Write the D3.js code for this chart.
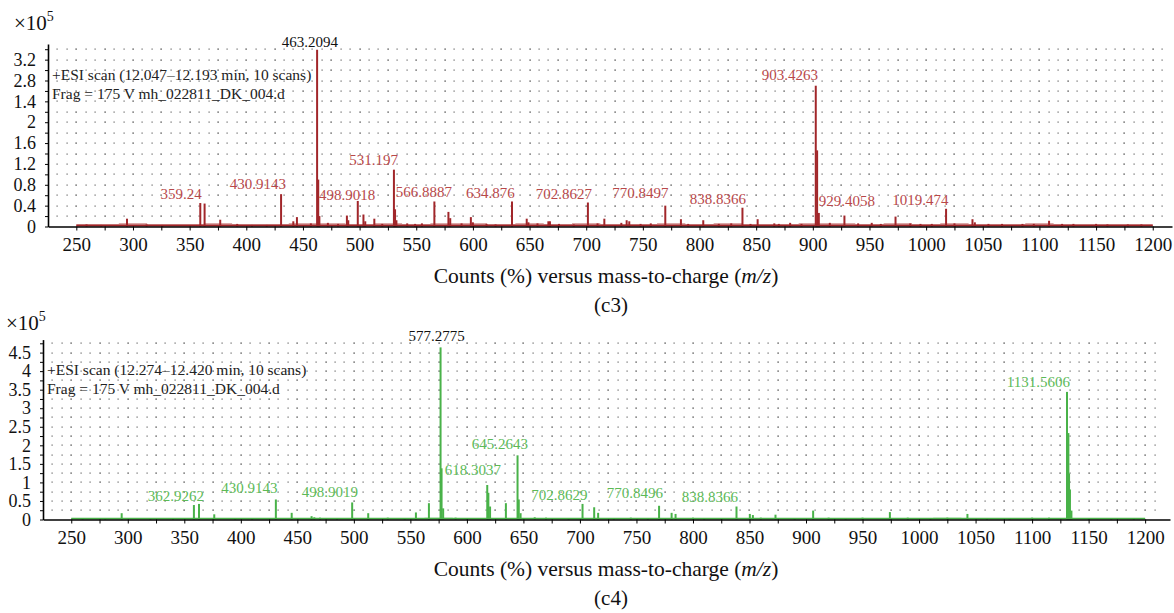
<!DOCTYPE html>
<html>
<head>
<meta charset="utf-8">
<script src="https://cdn.jsdelivr.net/npm/d3@7"></script>
<style>
  body { margin: 0; background: #fff; }
  svg text { font-family: "Liberation Serif", "DejaVu Serif", serif; }
</style>
</head>
<body>
<svg id="chart" width="1174" height="613"></svg>
<script>
// Mass spectra (c3) and (c4), intensities in units of 10^5 counts

var mzTicks = [250, 300, 350, 400, 450, 500, 550, 600, 650, 700, 750, 800, 850, 900, 950, 1000, 1050, 1100, 1150, 1200];

// (c3) stick spectrum
var c3Mz = [259, 272, 294.7, 312, 326, 359.4, 363.2, 377, 392, 405, 418, 430.7, 441.5, 444.7, 457, 462.5, 463.5, 464.5,
  472, 481, 488.8, 490, 498.4, 503.4, 505, 513, 520, 530.3, 531.3, 532.5, 542, 549, 555, 566, 578.4, 580, 590,
  598.2, 600, 612, 620, 634.5, 647.5, 649, 657, 666.6, 668, 676, 689, 701.5, 710, 716, 731, 735.7, 738, 748, 757,
  769.8, 783.6, 790, 803.3, 817, 828, 837.9, 845, 851.3, 866, 870, 880, 890, 902.6, 903.8, 905.3, 915, 927.9, 940,
  952, 960, 973, 986, 995, 1005, 1017.6, 1025, 1040.9, 1043, 1055, 1067, 1085, 1095, 1108.5, 1120, 1130, 1150,
  1160, 1178, 1190];
var c3Int = [0.04, 0.03, 0.15, 0.04, 0.03, 0.45, 0.44, 0.13, 0.05, 0.03, 0.03, 0.62, 0.10, 0.18, 0.06, 3.39, 0.90, 0.20,
  0.07, 0.05, 0.21, 0.12, 0.49, 0.23, 0.10, 0.15, 0.05, 1.09, 0.33, 0.12, 0.06, 0.05, 0.06, 0.48, 0.28, 0.16, 0.06,
  0.18, 0.08, 0.05, 0.04, 0.48, 0.15, 0.08, 0.06, 0.10, 0.10, 0.05, 0.04, 0.46, 0.06, 0.15, 0.07, 0.12, 0.10, 0.05, 0.06,
  0.40, 0.14, 0.05, 0.12, 0.05, 0.06, 0.36, 0.05, 0.14, 0.06, 0.05, 0.07, 0.05, 2.70, 1.46, 0.26, 0.07, 0.21, 0.06,
  0.07, 0.05, 0.19, 0.06, 0.05, 0.05, 0.34, 0.06, 0.14, 0.08, 0.05, 0.05, 0.05, 0.05, 0.11, 0.05, 0.05, 0.05,
  0.04, 0.04, 0.04];

// (c4) stick spectrum
var c4Mz = [260, 280, 294.6, 320, 340, 358.5, 363, 376.5, 395, 410, 431, 445, 462.6, 465, 470, 485, 498.5, 512.7,
  530, 545, 554.9, 566.4, 576.7, 577.6, 579, 590, 600, 618, 619, 620.5, 634.5, 644.8, 645.9, 647.5, 660, 670, 690,
  702.3, 712.6, 716.1, 730, 745, 760, 770, 781.1, 784.6, 800, 810, 825, 838.5, 850.3, 853, 860, 873, 890, 906.3,
  920, 935, 950, 974.2, 990, 1010, 1025, 1042.8, 1060, 1080, 1100, 1115, 1130.9, 1132.1, 1132.7, 1133.5, 1134.8,
  1150, 1170, 1190];
var c4Int = [0.04, 0.03, 0.17, 0.04, 0.03, 0.39, 0.42, 0.14, 0.04, 0.03, 0.54, 0.18, 0.09, 0.06, 0.05, 0.04, 0.46, 0.17,
  0.05, 0.04, 0.19, 0.44, 4.64, 1.38, 0.30, 0.05, 0.04, 0.93, 0.72, 0.35, 0.44, 1.73, 0.54, 0.17, 0.06, 0.05, 0.04,
  0.42, 0.33, 0.18, 0.04, 0.05, 0.04, 0.37, 0.18, 0.15, 0.05, 0.04, 0.04, 0.35, 0.15, 0.12, 0.05, 0.13, 0.04, 0.24,
  0.05, 0.04, 0.05, 0.20, 0.05, 0.04, 0.05, 0.15, 0.04, 0.04, 0.05, 0.05, 3.44, 2.33, 1.24, 0.81, 0.24,
  0.04, 0.04, 0.04];

// baseline noise read every 25 m/z
var noiseMz = [250, 275, 300, 325, 350, 375, 400, 425, 450, 475, 500, 525, 550, 575, 600, 625, 650, 675, 700, 725,
  750, 775, 800, 825, 850, 875, 900, 925, 950, 975, 1000, 1025, 1050, 1075, 1100, 1125, 1150, 1175, 1200];
var c3Noise = [0.05, 0.05, 0.06, 0.05, 0.05, 0.06, 0.05, 0.05, 0.06, 0.06, 0.05, 0.06, 0.05, 0.06, 0.06, 0.05, 0.06, 0.05, 0.06, 0.05,
  0.05, 0.06, 0.05, 0.06, 0.05, 0.05, 0.06, 0.06, 0.05, 0.06, 0.05, 0.06, 0.05, 0.05, 0.06, 0.05, 0.05, 0.05, 0.05];
var c4Noise = [0.04, 0.04, 0.04, 0.04, 0.04, 0.04, 0.04, 0.04, 0.04, 0.04, 0.04, 0.04, 0.04, 0.05, 0.04, 0.04, 0.04, 0.04, 0.04, 0.04,
  0.04, 0.04, 0.04, 0.04, 0.04, 0.04, 0.04, 0.04, 0.04, 0.04, 0.04, 0.05, 0.04, 0.04, 0.04, 0.04, 0.04, 0.04, 0.04];

// peak labels: text and anchor (label centre m/z, baseline intensity)
var c3LabelText = ["463.2094", "359.24", "430.9143", "498.9018", "531.197", "566.8887", "634.876", "702.8627",
  "770.8497", "838.8366", "903.4263", "929.4058", "1019.474"];
var c3LabelMz = [456.2, 342.4, 410.3, 488.9, 512.3, 556.8, 615.5, 680.4, 747.9, 816.3, 879.8, 930.1, 995];
var c3LabelInt = [3.44, 0.52, 0.71, 0.50, 1.17, 0.56, 0.54, 0.52, 0.55, 0.44, 2.81, 0.40, 0.42];

var c4LabelText = ["577.2775", "362.9262", "430.9143", "498.9019", "645.2643", "618.3037", "702.8629", "770.8496",
  "838.8366", "1131.5606"];
var c4LabelMz = [573.2, 342.6, 407.6, 478.8, 629.2, 605.3, 681.8, 748.6, 814.9, 1105.6];
var c4LabelInt = [4.81, 0.50, 0.71, 0.61, 1.90, 1.20, 0.53, 0.59, 0.47, 3.56];

var c3YTicks = [0, 0.4, 0.8, 1.2, 1.6, 2, 2.4, 2.8, 3.2];
var c3YTickLabels = ["0", "0.4", "0.8", "1.2", "1.6", "2", "1.4", "2.8", "3.2"];
var c4YTicks = [0, 0.5, 1, 1.5, 2, 2.5, 3, 3.5, 4, 4.5];
var c4YTickLabels = ["0", "0.5", "1", "1.5", "2", "2.5", "3", "3.5", "4", "4.5"];

var svg = d3.select("#chart");

function drawPanel(p) {
    var x = d3.scaleLinear().domain(p.xDomain).range(p.xRange);
    var y = d3.scaleLinear().domain(p.yDomain).range(p.yRange);
    var g = svg.append("g");

    // dotted grid (lattice of dots)
    var cols = d3.range(250 - 2 * 25 / 3, 1215, 25 / 3);
    var rows = d3.range(p.rowStep, p.yDomain[1] - 0.05, p.rowStep);
    var dots = [];
    cols.forEach(function(c, i) {
        rows.forEach(function(r) { dots.push([c, r, i % 3 == 2]); });
    });
    g.append("g").selectAll("rect")
        .data(dots)
        .enter()
        .append("rect")
        .attr("x", function(d) { return Math.round(x(d[0])) - 0.5; })
        .attr("y", function(d) { return Math.round(y(d[1])) - 0.5; })
        .attr("width", 1.2)
        .attr("height", 1.2)
        .attr("fill", function(d) { return d[2] ? "#222" : "#666"; });

    // baseline noise band
    var noise = p.noiseMz.map(function(m, i) { return [m, p.noise[i]]; });
    g.append("path")
        .datum(noise)
        .attr("fill", p.bandColor)
        .attr("d", d3.area()
            .curve(d3.curveStep)
            .x(function(d) { return x(d[0]); })
            .y0(y(0))
            .y1(function(d) { return y(d[1]); }));
    g.append("line")
        .attr("x1", x(250)).attr("x2", x(1200))
        .attr("y1", y(0) - 1).attr("y2", y(0) - 1)
        .attr("stroke", p.color)
        .attr("stroke-width", 1.5);

    // peaks
    var peaks = p.mz.map(function(m, i) { return [m, p.intensity[i]]; });
    g.append("g").selectAll("line")
        .data(peaks)
        .enter()
        .append("line")
        .attr("x1", function(d) { return x(d[0]); })
        .attr("x2", function(d) { return x(d[0]); })
        .attr("y1", y(0))
        .attr("y2", function(d) { return y(d[1]); })
        .attr("stroke", p.color)
        .attr("stroke-width", 2);

    // axes
    var bottomAxis = d3.axisBottom(x)
        .tickValues(d3.range(250, 1201, 25))
        .tickSize(4)
        .tickSizeOuter(0)
        .tickPadding(7.5)
        .tickFormat(function(d) { return mzTicks.indexOf(d) >= 0 ? d : ""; });
    var xg = g.append("g")
        .attr("transform", "translate(0," + y(0) + ")")
        .call(bottomAxis);
    xg.select(".domain").attr("stroke-width", 1.6);
    xg.selectAll("text").style("font-size", "19px").attr("fill", "#111");
    xg.selectAll("text").filter(function() { return this.textContent == ""; }).remove();

    var minorY = d3.range(0, p.yDomain[1], p.rowStep).map(function(v) { return +v.toFixed(2); });
    var leftAxis = d3.axisLeft(y)
        .tickValues(minorY)
        .tickSize(3)
        .tickSizeOuter(0)
        .tickPadding(9)
        .tickFormat(function(d) {
            var k = p.yTicks.indexOf(d);
            return k >= 0 ? p.yTickLabels[k] : "";
        });
    var yg = g.append("g")
        .attr("transform", "translate(" + x(p.xDomain[0]) + ",0)")
        .call(leftAxis);
    yg.select(".domain").attr("stroke-width", 1.6);
    yg.selectAll("text").style("font-size", "18px").attr("fill", "#111");
    yg.selectAll("text").filter(function() { return this.textContent == ""; }).remove();

    // x10^5
    var mult = g.append("text")
        .attr("x", p.multX)
        .attr("y", p.multY)
        .style("font-size", "21px")
        .attr("fill", "#111")
        .text("\u00d710");
    mult.append("tspan").attr("dy", -9).style("font-size", "14px").text("5");

    // scan annotation
    g.append("text")
        .attr("x", x(p.xDomain[0]) + 4)
        .attr("y", y(p.infoY))
        .style("font-size", "15.5px")
        .attr("fill", "#222")
        .text(p.info1);
    g.append("text")
        .attr("x", x(p.xDomain[0]) + 4)
        .attr("y", y(p.infoY) + 19)
        .style("font-size", "15.5px")
        .attr("fill", "#222")
        .text(p.info2);

    // peak labels
    g.append("g").selectAll("text")
        .data(p.labelText)
        .enter()
        .append("text")
        .attr("x", function(d, i) { return x(p.labelMz[i]); })
        .attr("y", function(d, i) { return y(p.labelInt[i]); })
        .attr("text-anchor", "middle")
        .style("font-size", "15px")
        .attr("fill", function(d, i) { return i == 0 ? "#111" : p.labelColor; })
        .text(function(d) { return d; });

    // axis title and panel tag
    var title = g.append("text")
        .attr("x", 606)
        .attr("y", y(0) + 56)
        .attr("text-anchor", "middle")
        .style("font-size", "21.5px")
        .attr("fill", "#111")
        .text("Counts (%) versus mass-to-charge  (");
    title.append("tspan").style("font-style", "italic").text("m/z");
    title.append("tspan").text(")");

    g.append("text")
        .attr("x", 611)
        .attr("y", y(0) + 85)
        .attr("text-anchor", "middle")
        .style("font-size", "21px")
        .attr("fill", "#111")
        .text(p.tag);
}

drawPanel({
    xDomain: [225, 1217], xRange: [48, 1172],
    yDomain: [0, 3.5], yRange: [226.5, 44],
    rowStep: 0.2,
    yTicks: c3YTicks, yTickLabels: c3YTickLabels,
    mz: c3Mz, intensity: c3Int,
    noiseMz: noiseMz, noise: c3Noise,
    labelText: c3LabelText, labelMz: c3LabelMz, labelInt: c3LabelInt,
    color: "#a1262a", bandColor: "#cf8a8a", labelColor: "#b8484a",
    multX: 14, multY: 30, infoY: 2.81,
    info1: "+ESI scan (12.047\u201312.193 min, 10 scans)",
    info2: "Frag = 175 V mh_022811_DK_004.d",
    tag: "(c3)"
});

drawPanel({
    xDomain: [225, 1222], xRange: [43, 1170],
    yDomain: [0, 4.85], yRange: [519.5, 339.6],
    rowStep: 0.25,
    yTicks: c4YTicks, yTickLabels: c4YTickLabels,
    mz: c4Mz, intensity: c4Int,
    noiseMz: noiseMz, noise: c4Noise,
    labelText: c4LabelText, labelMz: c4LabelMz, labelInt: c4LabelInt,
    color: "#49b249", bandColor: "#8fd08c", labelColor: "#5cba57",
    multX: 6, multY: 330, infoY: 3.9,
    info1: "+ESI scan (12.274\u201312.420 min, 10 scans)",
    info2: "Frag = 175 V mh_022811_DK_004.d",
    tag: "(c4)"
});
</script>
</body>
</html>
